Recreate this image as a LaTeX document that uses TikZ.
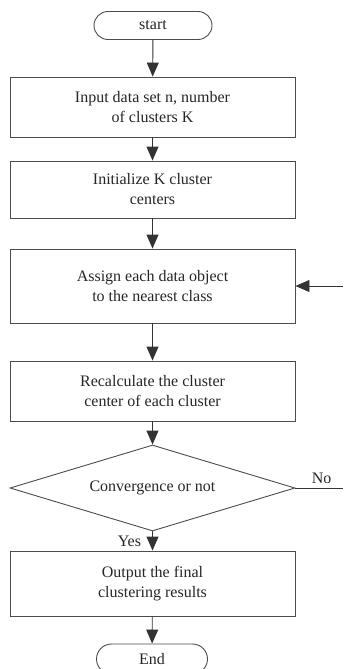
\documentclass[tikz,border=0pt]{standalone}
\usepackage{fontspec}
\setmainfont{Liberation Serif}
\usetikzlibrary{arrows.meta,positioning}
\usetikzlibrary{shapes.geometric}
\usetikzlibrary{shapes.misc}
\tikzset{
  base/.style={
    draw=black!70,
    line width=0.9pt,
    text=black!85,
    font=\fontsize{16}{20}\selectfont,
    align=center,
    inner sep=0pt
  },
  procbox/.style={
    base,
    rectangle,
    minimum width=285pt
  },
  termbox/.style={
    base,
    rounded rectangle
  },
  decbox/.style={
    base,
    diamond,
    aspect=3.3,
    minimum width=285pt,
    minimum height=86pt
  },
  flow/.style={
    draw=black!80,
    line width=0.9pt
  }
}

\begin{document}
\begin{tikzpicture}[x=1pt,y=1pt,>={Triangle[width=12pt,length=14pt]}]
\useasboundingbox (0,0) rectangle (343,-669);

\node[termbox,minimum width=118pt,minimum height=28pt]
at (153,-25.5) (start) {start};

\node[procbox,minimum height=60pt]
at (152.5,-107) (input) {Input data set n, number\\of clusters K};

\node[procbox,minimum height=57pt]
at (152.5,-189.5) (init) {Initialize K cluster\\centers};

\node[procbox,minimum height=74pt]
at (152.5,-286) (assign) {Assign each data object\\to the nearest class};

\node[procbox,minimum height=60pt]
at (152.5,-391) (recalc) {Recalculate the cluster\\center of each cluster};

\node[decbox]
at (152.5,-488) (conv) {Convergence or not};

\node[procbox,minimum height=65pt]
at (152.5,-583.5) (output) {Output the final\\clustering results};

\node[termbox,minimum width=111pt,minimum height=30pt]
at (152,-659) (end) {End};

% loop back (cut at the right edge)
\coordinate (noend) at (343,-488);
\coordinate (backin) at (343,-286);

\draw[flow,->] (start) -- (input);
\draw[flow,->] (input) -- (init);
\draw[flow,->] (init) -- (assign);
\draw[flow,->] (assign) -- (recalc);
\draw[flow,->] (recalc) -- (conv);
\draw[flow,->] (conv) -- node[base,draw=none,left=11pt,pos=0.5]{Yes} (output);
\draw[flow,->] (output) -- (end);

\draw[flow] (conv.east) -- node[base,draw=none,above=4pt,pos=0.55]{No} (noend);
\draw[flow,->] (backin) -- (assign.east);

\end{tikzpicture}
\end{document}
